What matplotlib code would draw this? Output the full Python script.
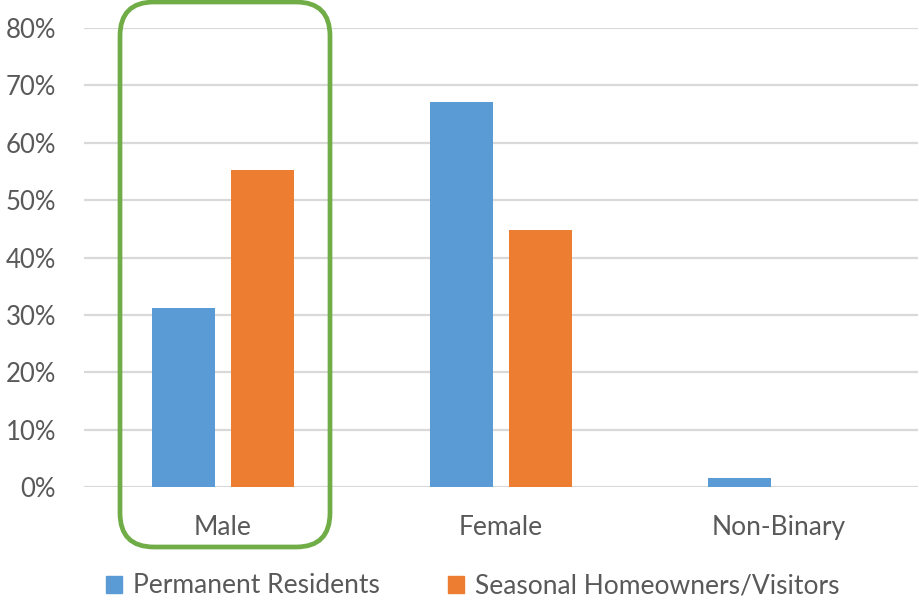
import matplotlib
matplotlib.use("Agg")
import matplotlib.pyplot as plt
from matplotlib.patches import FancyBboxPatch, Patch
from matplotlib.ticker import PercentFormatter
import numpy as np

categories = ["Male", "Female", "Non-Binary"]
permanent = [31.2, 67.1, 1.6]
seasonal = [55.3, 44.8, 0.0]
series_names = ["Permanent Residents", "Seasonal Homeowners/Visitors"]
yticks = [0, 10, 20, 30, 40, 50, 60, 70, 80]

BLUE = "#5b9bd5"
ORANGE = "#ed7d31"
GREEN = "#70ad47"
TEXT = "#595959"
GRID = "#d9d9d9"

plt.rcParams["font.family"] = ["Lato", "DejaVu Sans"]

W, H = 920, 601
fig = plt.figure(figsize=(W / 100, H / 100), dpi=100)
ax = fig.add_axes([84 / W, 114 / H, (918 - 84) / W, (573 - 114) / H])

x = np.arange(len(categories))
bw = 0.226
off = 0.143
ax.bar(x - off, permanent, bw, color=BLUE, zorder=3)
ax.bar(x + off, seasonal, bw, color=ORANGE, zorder=3)

ax.set_xlim(-0.5, 2.5)
ax.set_ylim(0, 80)
ax.set_yticks(yticks)
ax.yaxis.set_major_formatter(PercentFormatter(decimals=0))
ax.set_xticks(x)
ax.set_xticklabels(categories)
ax.grid(axis="y", color=GRID, linewidth=1.6, zorder=0)
for s in ax.spines.values():
    s.set_visible(False)
ax.tick_params(axis="both", length=0, labelcolor=TEXT)
ax.tick_params(axis="y", pad=20, labelsize=18.5)
ax.tick_params(axis="x", pad=20, labelsize=19)

# Highlight box around the first category (display pixels)
box = FancyBboxPatch((120, 54), 210, 545,
                     boxstyle="round,pad=0,rounding_size=34",
                     transform=None, fill=False, edgecolor=GREEN,
                     linewidth=3.4, clip_on=False, zorder=5)
fig.patches.append(box)

handles = [Patch(color=BLUE), Patch(color=ORANGE)]
fig.legend(handles, series_names, loc="center", bbox_to_anchor=(0.514, 0.025),
           ncol=2, frameon=False, fontsize=19, labelcolor=TEXT,
           handlelength=0.6, handleheight=0.6, handletextpad=0.4,
           columnspacing=2.6)

fig.savefig("out.png", dpi=100)
